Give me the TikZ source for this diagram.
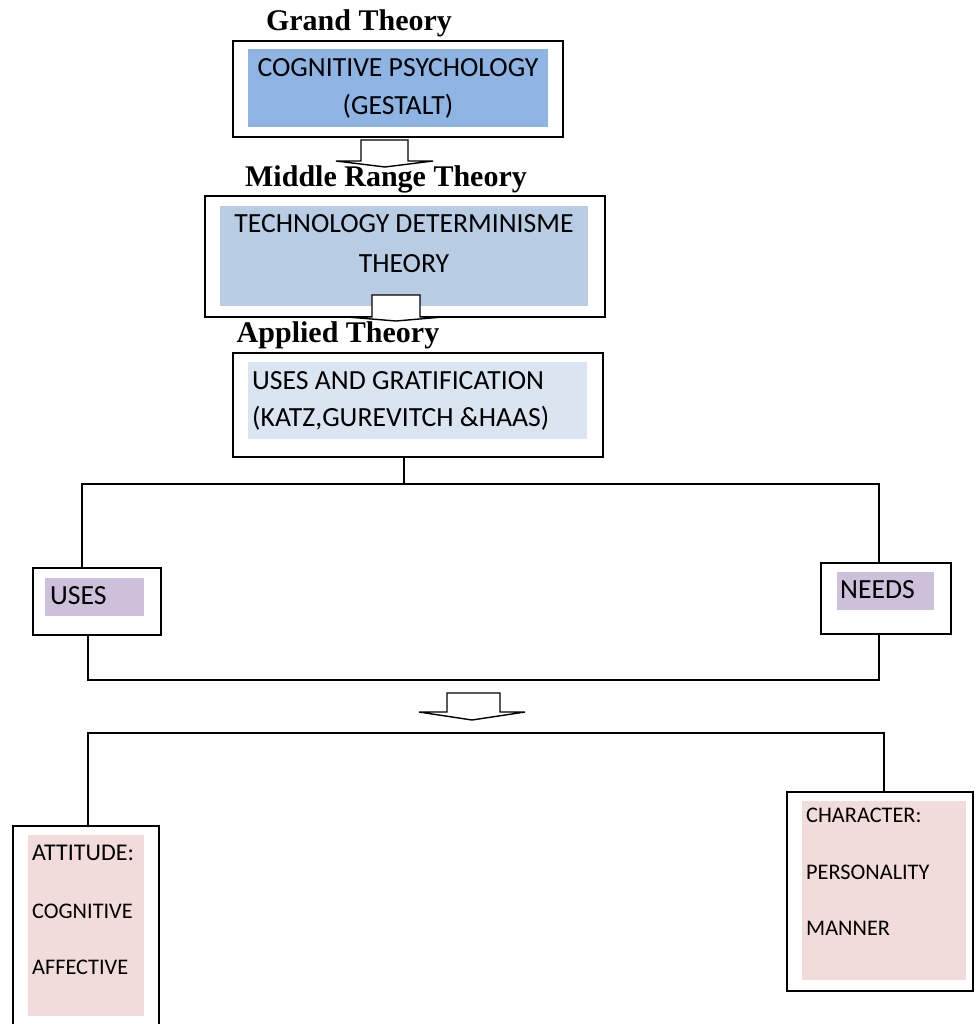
\documentclass[tikz,border=0pt]{standalone}
\usepackage{fontspec}
\setmainfont{Carlito}
\newfontfamily\headfont{Liberation Serif}
\usetikzlibrary{positioning}

\definecolor{grandfill}{HTML}{8DB4E2}
\definecolor{middlefill}{HTML}{B8CCE4}
\definecolor{appliedfill}{HTML}{DBE5F1}
\definecolor{usesfill}{HTML}{CCC0DA}
\definecolor{traitfill}{HTML}{F2DCDB}

\begin{document}
\begin{tikzpicture}[x=1pt,y=-1pt]

    \tikzset{frame/.style={draw,line width=1.6pt,inner sep=0pt,anchor=north west}}
    \tikzset{shade/.style={inner sep=0pt,anchor=north west}}
    \tikzset{head/.style={font=\headfont\bfseries\fontsize{30}{32}\selectfont,inner sep=0pt,anchor=base}}
    \tikzset{boxtext/.style={font=\fontsize{27.7}{32}\selectfont,inner sep=0pt,anchor=base}}
    \tikzset{smalltext/.style={font=\fontsize{22.3}{26}\selectfont,inner sep=0pt,anchor=base west}}
    \tikzset{link/.style={line width=1.4pt}}
    \tikzset{bigarrow/.style={draw,line width=1.4pt,fill=white,line join=miter}}

    \useasboundingbox (0,0) rectangle (974,1024);
    \clip (0,0) rectangle (974,1024);

    % Grand theory
    \node[frame,minimum width=330,minimum height=96] (gbox) at (232,40) {};
    \node[shade,fill=grandfill,minimum width=300,minimum height=78] (gfill) at (248,49) {};
    \node[boxtext] (g1) at (398,77) {COGNITIVE PSYCHOLOGY};
    \node[boxtext] (g2) at (398,115) {(GESTALT)};
    \node[head] (ghead) at (359,31) {Grand Theory};

    % Middle range theory
    \node[frame,minimum width=400,minimum height=121] (mbox) at (204,195) {};
    \node[shade,fill=middlefill,minimum width=368,minimum height=100] (mfill) at (220,206) {};
    \node[boxtext] (m1) at (404,233) {TECHNOLOGY DETERMINISME};
    \node[boxtext] (m2) at (404,272) {THEORY};

    % Applied theory
    \node[frame,minimum width=370,minimum height=104] (abox) at (232,352) {};
    \node[shade,fill=appliedfill,minimum width=339,minimum height=77] (afill) at (248,362) {};
    \node[boxtext,anchor=base west] (a1) at (252,389) {USES AND GRATIFICATION};
    \node[boxtext,anchor=base west] (a2) at (252,426) {(KATZ,GUREVITCH \&HAAS)};

    % block arrows
    \draw[bigarrow] (361,140) -- (408,140) -- (408,161) -- (433,161) -- (385,167)
        -- (336,161) -- (361,161) -- cycle;
    \draw[bigarrow] (372,295) -- (420,295) -- (420,317) -- (443,317) -- (396,321)
        -- (347,317) -- (372,317) -- cycle;
    \draw[bigarrow] (447,693) -- (500,693) -- (500,712) -- (525,712) -- (472,720)
        -- (419,712) -- (447,712) -- cycle;

    \node[head] (mhead) at (386,187) {Middle Range Theory};
    \node[head] (ahead) at (338,342) {Applied Theory};

    % uses and needs
    \node[frame,minimum width=128,minimum height=67] (usesbox) at (32,567) {};
    \node[shade,fill=usesfill,minimum width=99,minimum height=38] (usesfill) at (45,578) {};
    \node[boxtext,anchor=base west] (u1) at (50,604) {USES};

    \node[frame,minimum width=130,minimum height=71] (needsbox) at (820,562) {};
    \node[shade,fill=usesfill,minimum width=97,minimum height=38] (needsfill) at (837,572) {};
    \node[boxtext,anchor=base west] (n1) at (840,598) {NEEDS};

    % attitude and character
    \node[frame,minimum width=146,minimum height=210] (attbox) at (12,825) {};
    \node[shade,fill=traitfill,minimum width=116,minimum height=181] (attfill) at (28,835) {};
    \node[smalltext,font=\fontsize{24}{26}\selectfont] (t1) at (32,860) {ATTITUDE:};
    \node[smalltext] (t2) at (32,918) {COGNITIVE};
    \node[smalltext] (t3) at (32,974) {AFFECTIVE};

    \node[frame,minimum width=186,minimum height=199] (charbox) at (786,791) {};
    \node[shade,fill=traitfill,minimum width=164,minimum height=179] (charfill) at (802,801) {};
    \node[smalltext] (c1) at (806,822) {CHARACTER:};
    \node[smalltext] (c2) at (806,879) {PERSONALITY};
    \node[smalltext] (c3) at (806,935) {MANNER};

    % connectors
    \coordinate (fork) at (404,484);
    \coordinate (forkL) at (82,484);
    \coordinate (forkR) at (879,484);
    \coordinate (joinL) at (88,680);
    \coordinate (joinR) at (879,680);
    \coordinate (splitL) at (88,733);
    \coordinate (splitR) at (884,733);

    \draw[link] (abox.south -| fork) -- (fork);
    \draw[link] (usesbox.north -| forkL) -- (forkL) -- (forkR) -- (needsbox.north -| forkR);
    \draw[link] (usesbox.south -| joinL) -- (joinL) -- (joinR) -- (needsbox.south -| joinR);
    \draw[link] (attbox.north -| splitL) -- (splitL) -- (splitR) -- (charbox.north -| splitR);

\end{tikzpicture}
\end{document}
